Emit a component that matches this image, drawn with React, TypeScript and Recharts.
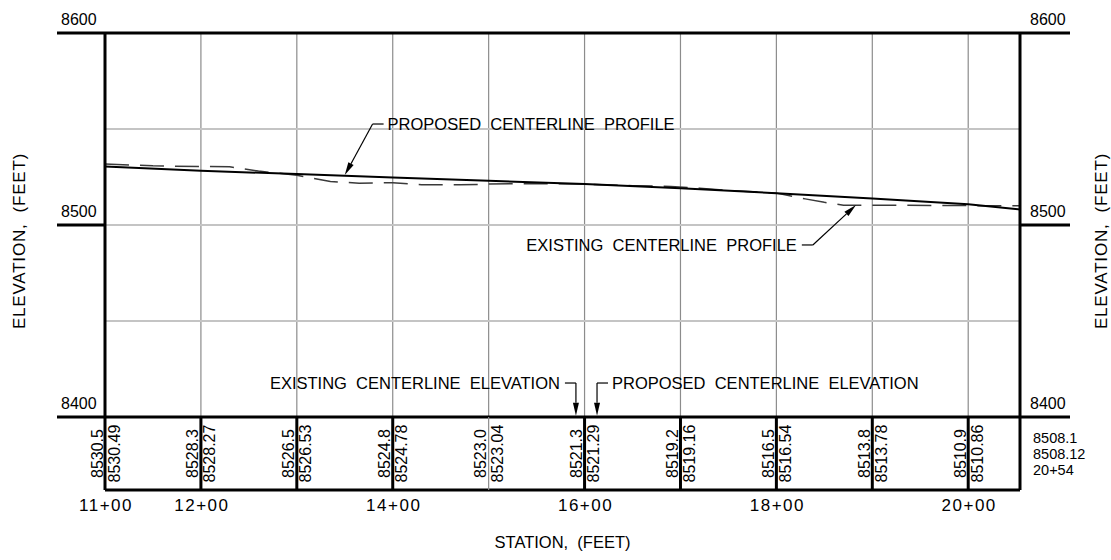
import React from "react";
import { CartesianGrid, Line, LineChart, ReferenceLine, XAxis, YAxis } from "recharts";

// stations in feet (11+00 .. 20+54)
const stations = [1100, 1200, 1300, 1400, 1500, 1600, 1700, 1800, 1900, 2000, 2054];
const proposedElev = [8530.49, 8528.27, 8526.53, 8524.78, 8523.04, 8521.29, 8519.16, 8516.54, 8513.78, 8510.86, 8508.12];
const existingBandElev = [8530.5, 8528.3, 8526.5, 8524.8, 8523.0, 8521.3, 8519.2, 8516.5, 8513.8, 8510.9, 8508.1];

// existing ground as traced from the dashed profile
const existingStations = [1100, 1150, 1200, 1230, 1260, 1300, 1335, 1365, 1400, 1430, 1470, 1500, 1550, 1600, 1650, 1690, 1720, 1750, 1800, 1830, 1850, 1870, 1900, 2000, 2054];
const existingElev = [8531.8, 8530.8, 8530.5, 8530.3, 8528.1, 8525.9, 8522.6, 8521.8, 8522.0, 8521.0, 8520.9, 8521.3, 8521.6, 8521.3, 8520.5, 8520.1, 8519.2, 8518.0, 8516.6, 8513.6, 8511.8, 8510.3, 8510.3, 8510.1, 8510.0];

const stationLabelTicks = [1100, 1200, 1400, 1600, 1800, 2000];
const elevTicks = [8400, 8500, 8600];
const gridElev = [8450, 8500, 8550];
const lightBandStations = [1500];

const leaderTexts = ["PROPOSED  CENTERLINE  PROFILE", "EXISTING  CENTERLINE  PROFILE", "EXISTING  CENTERLINE  ELEVATION", "PROPOSED  CENTERLINE  ELEVATION"];
const leaderKnees = [[1379, 8552.6], [1838, 8489.6], [1591, 8417.7], [1613, 8417.7]];
const leaderTips = [[1350, 8526.0], [1883, 8510.4], [1591, 8400.6], [1613, 8400.6]];
const leaderSides = ["right", "left", "left", "right"];

const proposedData = stations.map((s, i) => ({ station: s, elev: proposedElev[i] }));
const existingData = existingStations.map((s, i) => ({ station: s, elev: existingElev[i] }));

const FONT = "'Liberation Sans', Arial, sans-serif";
const BAND_H = 73;

const fmtStation = (s: number) => `${Math.floor(s / 100)}+${String(s % 100).padStart(2, "0")}`;

function BandTick(props: any) {
  const { x, y, payload } = props;
  const s = payload.value;
  const i = stations.indexOf(s);
  const light = lightBandStations.includes(s);
  const last = i === stations.length - 1;
  const cy = y + BAND_H / 2;
  return (
    <g>
      <line x1={x} y1={y} x2={x} y2={y + BAND_H} stroke={light ? "#8c8c8c" : "#000"} strokeWidth={light ? 1.2 : 3} />
      {last ? (
        <text fontSize={14.5} fill="#000">
          <tspan x={x + 13} y={y + 26}>{existingBandElev[i].toFixed(1)}</tspan>
          <tspan x={x + 13} y={y + 42}>{proposedElev[i].toFixed(2)}</tspan>
          <tspan x={x + 13} y={y + 58}>{fmtStation(s)}</tspan>
        </text>
      ) : (
        <>
          <text transform={`translate(${x - 2.5},${cy}) rotate(-90)`} textAnchor="middle" fontSize={16} fill="#000">
            {existingBandElev[i].toFixed(1)}
          </text>
          <text transform={`translate(${x + 14.5},${cy}) rotate(-90)`} textAnchor="middle" fontSize={16} fill="#000">
            {proposedElev[i].toFixed(2)}
          </text>
        </>
      )}
    </g>
  );
}

function StationTick(props: any) {
  const { x, y, payload } = props;
  return (
    <text x={x + 1} y={y + 21} textAnchor="middle" fontSize={17} letterSpacing={1.5} fill="#000">
      {fmtStation(payload.value)}
    </text>
  );
}

function LeftElevTick(props: any) {
  const { x, y, payload } = props;
  return (
    <text x={x + 4} y={y - 8} fontSize={16} fill="#000">
      {payload.value}
    </text>
  );
}

function RightElevTick(props: any) {
  const { x, y, payload } = props;
  return (
    <text x={x - 40} y={y - 8} fontSize={16} fill="#000">
      {payload.value}
    </text>
  );
}

function leaderShape(k: number) {
  return (p: any) => {
    const { x1, y1, x2, y2 } = p;
    const dx = x2 - x1;
    const dy = y2 - y1;
    const len = Math.hypot(dx, dy) || 1;
    const ux = dx / len;
    const uy = dy / len;
    const ah = 13;
    const aw = 3;
    const bx = x2 - ux * ah;
    const by = y2 - uy * ah;
    const arrow = `${x2},${y2} ${bx - uy * aw},${by + ux * aw} ${bx + uy * aw},${by - ux * aw}`;
    const right = leaderSides[k] === "right";
    const dashEnd = right ? x1 + 11 : x1 - 11;
    const tx = right ? dashEnd + 4 : dashEnd - 5;
    return (
      <g>
        <line x1={x1} y1={y1} x2={bx} y2={by} stroke="#000" strokeWidth={1.2} />
        <polygon points={arrow} fill="#000" />
        <line x1={x1} y1={y1} x2={dashEnd} y2={y1} stroke="#000" strokeWidth={1.2} />
        <text x={tx} y={y1 + 6} fontSize={16.5} fill="#000" textAnchor={right ? "start" : "end"} style={{ whiteSpace: "pre" }}>
          {leaderTexts[k]}
        </text>
      </g>
    );
  };
}

const ElevLabel = (side: "left" | "right") => (p: any) => {
  const vb = p.viewBox;
  const bx = side === "left" ? vb.x + 25 : vb.x + vb.width - 4;
  return (
    <text transform={`translate(${bx},${vb.y + vb.height / 2 + 16}) rotate(-90)`} textAnchor="middle" fontSize={17} letterSpacing={0.8} fill="#000" style={{ whiteSpace: "pre" }}>
      ELEVATION,  (FEET)
    </text>
  );
};

const StationLabel = (p: any) => {
  const vb = p.viewBox;
  return (
    <text x={vb.x + vb.width / 2} y={vb.y + vb.height - 12} textAnchor="middle" fontSize={16.5} fill="#000" style={{ whiteSpace: "pre" }}>
      STATION,  (FEET)
    </text>
  );
};

export default function App() {
  return (
    <div style={{ width: 1111, height: 560, background: "#fff", fontFamily: FONT }}>
      <style>{"body{margin:0}"}</style>
      <LineChart width={1111} height={560} margin={{ top: 33, right: 0, bottom: 0, left: 0 }}>
        <XAxis
          xAxisId="band"
          type="number"
          dataKey="station"
          domain={[1100, 2054]}
          allowDataOverflow
          ticks={stations}
          interval={0}
          height={BAND_H}
          tickSize={0}
          tickMargin={0}
          tickLine={false}
          axisLine={{ stroke: "#000", strokeWidth: 3 }}
          tick={(p: any) => <BandTick {...p} />}
        />
        <XAxis
          xAxisId="sta"
          type="number"
          dataKey="station"
          domain={[1100, 2054]}
          allowDataOverflow
          ticks={stationLabelTicks}
          interval={0}
          height={70}
          tickSize={0}
          tickMargin={0}
          tickLine={false}
          axisLine={{ stroke: "#000", strokeWidth: 3 }}
          tick={(p: any) => <StationTick {...p} />}
          label={{ content: StationLabel }}
        />
        <YAxis
          yAxisId="l"
          type="number"
          domain={[8400, 8600]}
          allowDataOverflow
          ticks={elevTicks}
          interval={0}
          width={105}
          tickSize={48}
          tickMargin={0}
          tickLine={{ stroke: "#000", strokeWidth: 3 }}
          axisLine={{ stroke: "#000", strokeWidth: 3 }}
          tick={(p: any) => <LeftElevTick {...p} />}
          label={{ content: ElevLabel("left") }}
        />
        <YAxis
          yAxisId="r"
          orientation="right"
          type="number"
          domain={[8400, 8600]}
          allowDataOverflow
          ticks={elevTicks}
          interval={0}
          width={91}
          tickSize={50}
          tickMargin={0}
          tickLine={{ stroke: "#000", strokeWidth: 3 }}
          axisLine={{ stroke: "#000", strokeWidth: 3 }}
          tick={(p: any) => <RightElevTick {...p} />}
          label={{ content: ElevLabel("right") }}
        />
        <CartesianGrid xAxisId="band" yAxisId="l" horizontal={false} stroke="#8c8c8c" strokeWidth={1.2} />
        {gridElev.map((e) => (
          <ReferenceLine key={e} xAxisId="band" yAxisId="l" y={e} stroke="#c4c4c4" strokeWidth={2} />
        ))}
        <ReferenceLine xAxisId="band" yAxisId="l" y={8600} stroke="#000" strokeWidth={3} />
        <Line
          xAxisId="band"
          yAxisId="l"
          data={existingData}
          dataKey="elev"
          type="linear"
          stroke="#3a3a3a"
          strokeWidth={1.5}
          strokeDasharray="24 11"
          dot={false}
          isAnimationActive={false}
        />
        <Line
          xAxisId="band"
          yAxisId="l"
          data={proposedData}
          dataKey="elev"
          type="linear"
          stroke="#000"
          strokeWidth={2}
          dot={false}
          isAnimationActive={false}
        />
        {leaderTexts.map((t, k) => (
          <ReferenceLine
            key={t}
            xAxisId="band"
            yAxisId="l"
            segment={[
              { x: leaderKnees[k][0], y: leaderKnees[k][1] },
              { x: leaderTips[k][0], y: leaderTips[k][1] },
            ]}
            shape={leaderShape(k)}
          />
        ))}
      </LineChart>
    </div>
  );
}
